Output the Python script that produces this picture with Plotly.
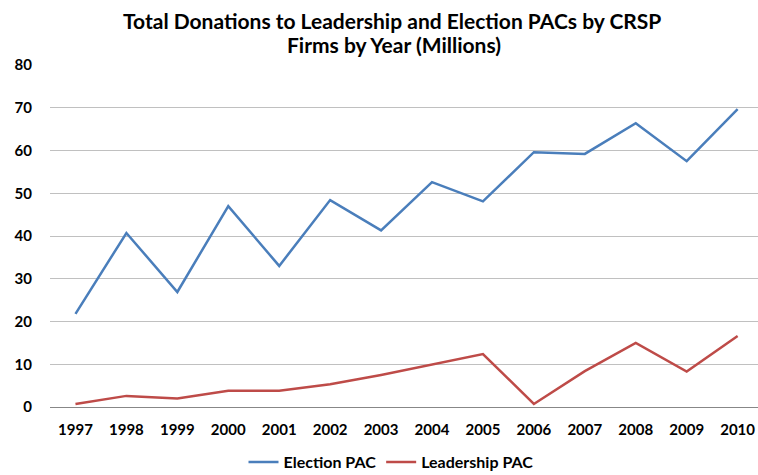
import plotly.graph_objects as go

years = ["1997", "1998", "1999", "2000", "2001", "2002", "2003", "2004",
         "2005", "2006", "2007", "2008", "2009", "2010"]
election_pac = [21.8, 40.7, 26.9, 47.0, 33.0, 48.4, 41.3, 52.6,
                48.1, 59.6, 59.2, 66.4, 57.5, 69.7]
leadership_pac = [0.7, 2.6, 2.0, 3.8, 3.8, 5.3, 7.5, 10.0,
                  12.4, 0.7, 8.4, 15.0, 8.3, 16.6]

FONT = "Lato"

fig = go.Figure()
fig.add_trace(go.Scatter(x=years, y=election_pac, mode="lines", name="Election PAC",
                         line=dict(color="#4A7EBB", width=2.5)))
fig.add_trace(go.Scatter(x=years, y=leadership_pac, mode="lines", name="Leadership PAC",
                         line=dict(color="#BE4B48", width=2.5)))

fig.add_annotation(text="Total Donations to Leadership and Election PACs by CRSP",
                   xref="paper", yref="paper", x=(392 - 50) / 708, y=1 + (65 - 20) / 342,
                   xanchor="center", yanchor="middle", showarrow=False,
                   font=dict(family=FONT, size=21, color="black", weight="bold"))
fig.add_annotation(text="Firms by Year (Millions)",
                   xref="paper", yref="paper", x=(394 - 50) / 708, y=1 + (65 - 44) / 342,
                   xanchor="center", yanchor="middle", showarrow=False,
                   font=dict(family=FONT, size=21, color="black", weight="bold"))

fig.update_layout(
    width=758, height=475,
    margin=dict(l=50, r=0, t=65, b=68),
    paper_bgcolor="white", plot_bgcolor="white",
    font=dict(family=FONT, size=15, color="black", weight="bold"),
    showlegend=True,
    legend=dict(orientation="h", xref="container", yref="container",
                x=391/758, xanchor="center", y=1 - 462/475, yanchor="middle",
                font=dict(family=FONT, size=16, color="black", weight="bold"),
                itemwidth=30, tracegroupgap=0, bgcolor="rgba(0,0,0,0)"),
)
fig.update_xaxes(type="category", range=[-0.5, 13.4], showgrid=False,
                 showline=True, linecolor="#878787", linewidth=1,
                 ticks="", tickfont=dict(family=FONT, size=15, color="black", weight="bold"),
                 ticklabelstandoff=9)
fig.update_yaxes(range=[0, 80], dtick=10, showgrid=True, gridcolor="#C0C0C0",
                 gridwidth=1, zeroline=False, showline=False, ticks="",
                 tickfont=dict(family=FONT, size=15, color="black", weight="bold"),
                 ticklabelstandoff=17)

fig.write_html("out.html")
